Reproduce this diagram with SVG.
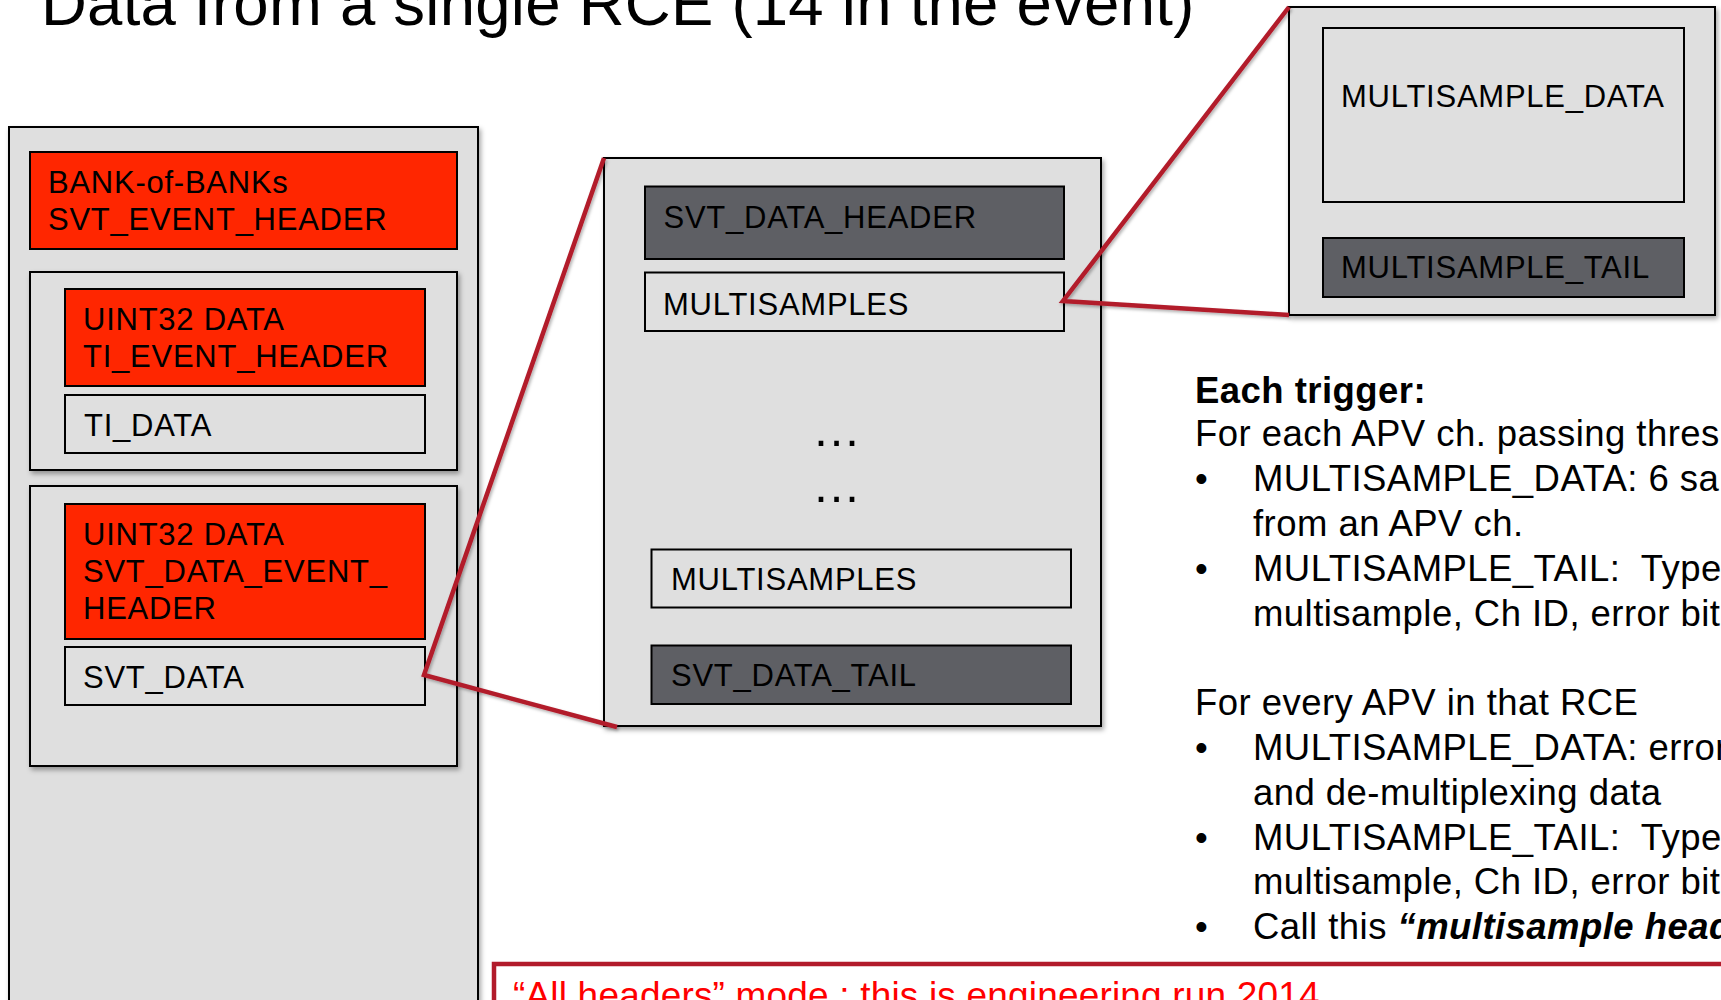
<svg xmlns="http://www.w3.org/2000/svg" width="1721" height="1000" viewBox="0 0 1721 1000">
<defs>
<filter id="sh" x="-10%" y="-10%" width="120%" height="120%">
<feDropShadow dx="2" dy="3" stdDeviation="2.5" flood-color="#000" flood-opacity="0.35"/>
</filter>
<filter id="lsh" x="-10%" y="-10%" width="120%" height="120%">
<feDropShadow dx="1.5" dy="2" stdDeviation="1.5" flood-color="#000" flood-opacity="0.3"/>
</filter>
</defs>
<style>
text{font-family:"Liberation Sans",Arial,Helvetica,sans-serif;fill:#000}
.frame{fill:#DFDFDF;stroke:#000;stroke-width:2}
.red{fill:#FF2600;stroke:#000;stroke-width:2}
.light{fill:#DFDFDF;stroke:#000;stroke-width:2}
.dark{fill:#5E5F64;stroke:#000;stroke-width:2}
.lbl{font-size:31px;letter-spacing:0.75px}
.body{font-size:36.5px;letter-spacing:0.45px;white-space:pre}
.conn{fill:none;stroke:#B21B2B;stroke-width:4.5;stroke-linejoin:miter}
</style>
<rect width="1721" height="1000" fill="#fff"/>
<text id="title" x="41" y="25" style="font-size:63.5px;letter-spacing:0.25px">Data from a single RCE (14 in the event)</text>

<g id="rce-bank">
<rect class="frame" x="9" y="127" width="469" height="900" filter="url(#sh)"/>
</g>
<g id="bank-of-banks">
<rect class="red" x="30" y="152" width="427" height="97"/>
<text class="lbl" x="48" y="193">BANK-of-BANKs</text>
<text class="lbl" x="48" y="230">SVT_EVENT_HEADER</text>
</g>
<g id="ti-bank">
<rect class="frame" x="30" y="272" width="427" height="198" filter="url(#sh)"/>
</g>
<g id="ti-event-header">
<rect class="red" x="65" y="289" width="360" height="97"/>
<text class="lbl" x="83" y="330">UINT32 DATA</text>
<text class="lbl" x="83" y="367">TI_EVENT_HEADER</text>
</g>
<g id="ti-data">
<rect class="light" x="65" y="395" width="360" height="58"/>
<text class="lbl" x="84" y="436">TI_DATA</text>
</g>
<g id="svt-bank">
<rect class="frame" x="30" y="486" width="427" height="280" filter="url(#sh)"/>
</g>
<g id="svt-data-event-header">
<rect class="red" x="65" y="504" width="360" height="135"/>
<text class="lbl" x="83" y="545">UINT32 DATA</text>
<text class="lbl" x="83" y="582">SVT_DATA_EVENT_</text>
<text class="lbl" x="83" y="619">HEADER</text>
</g>
<g id="svt-data">
<rect class="light" x="65" y="647" width="360" height="58"/>
<text class="lbl" x="83" y="688">SVT_DATA</text>
</g>

<g id="svt-data-detail">
<rect class="frame" x="604" y="158" width="497" height="568" filter="url(#sh)"/>
</g>
<g id="svt-data-header">
<rect class="dark" x="645" y="186.5" width="419" height="72.5"/>
<text class="lbl" x="663.5" y="228">SVT_DATA_HEADER</text>
</g>
<g id="multisamples-1">
<rect class="light" x="645" y="272.5" width="419" height="58.5"/>
<text class="lbl" x="663" y="315">MULTISAMPLES</text>
</g>
<g id="ellipsis">
<text x="812" y="446" style="font-size:49px">…</text>
<text x="812" y="502" style="font-size:49px">…</text>
</g>
<g id="multisamples-2">
<rect class="light" x="651.5" y="549.5" width="419.5" height="58"/>
<text class="lbl" x="671" y="590">MULTISAMPLES</text>
</g>
<g id="svt-data-tail">
<rect class="dark" x="651.5" y="645.5" width="419.5" height="58.5"/>
<text class="lbl" x="671" y="686">SVT_DATA_TAIL</text>
</g>

<g id="multisample-detail">
<rect class="frame" x="1289" y="7" width="426" height="308" filter="url(#sh)"/>
</g>
<g id="multisample-data">
<rect class="light" x="1323" y="28" width="361" height="174"/>
<text class="lbl" x="1341" y="107">MULTISAMPLE_DATA</text>
</g>
<g id="multisample-tail">
<rect class="dark" x="1323" y="238" width="361" height="59"/>
<text class="lbl" x="1341" y="278">MULTISAMPLE_TAIL</text>
</g>

<g id="connectors" filter="url(#lsh)">
<polyline class="conn" points="604,158 424,675 617,727"/>
<polyline class="conn" points="1289,7 1063,301 1289,315"/>
</g>

<g id="notes">
<text class="body" x="1195" y="403" style="font-weight:bold">Each trigger:</text>
<text class="body" x="1195" y="446">For each APV ch. passing thresh</text>
<text class="body" x="1195" y="491">•</text>
<text class="body" x="1253" y="491">MULTISAMPLE_DATA: 6 sa</text>
<text class="body" x="1253" y="536">from an APV ch.</text>
<text class="body" x="1195" y="581">•</text>
<text class="body" x="1253" y="581">MULTISAMPLE_TAIL:  Type</text>
<text class="body" x="1253" y="626">multisample, Ch ID, error bits</text>
<text class="body" x="1195" y="715">For every APV in that RCE</text>
<text class="body" x="1195" y="760">•</text>
<text class="body" x="1253" y="760">MULTISAMPLE_DATA: error</text>
<text class="body" x="1253" y="805">and de-multiplexing data</text>
<text class="body" x="1195" y="850">•</text>
<text class="body" x="1253" y="850">MULTISAMPLE_TAIL:  Type</text>
<text class="body" x="1253" y="894">multisample, Ch ID, error bits</text>
<text class="body" x="1195" y="939">•</text>
<text class="body" x="1253" y="939">Call this <tspan style="font-weight:bold;font-style:italic">“multisample head</tspan></text>
</g>

<g id="mode-note">
<rect x="494" y="964" width="1240" height="100" fill="#fff" stroke="#B21B2B" stroke-width="4.5"/>
<text x="513" y="1008" style="font-size:37px;letter-spacing:0.18px;fill:#FF0000">“All headers” mode : this is engineering run 2014</text>
</g>
</svg>
